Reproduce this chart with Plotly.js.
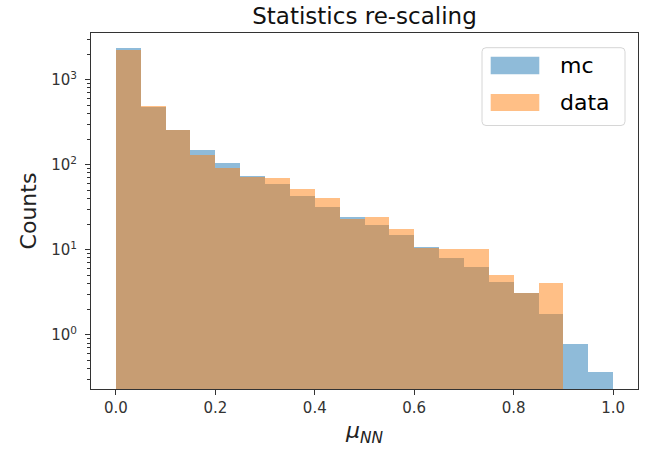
<!DOCTYPE html>
<html>
<head>
<meta charset="utf-8">
<script src="https://cdn.plot.ly/plotly-3.0.1.min.js"></script>
<style>html,body{margin:0;padding:0;background:#fff;}#chart{width:651px;height:455px;}</style>
</head>
<body>
<div id="chart"></div>
<script>
// bin left edges (width 0.05)
const binLeft = [0.00, 0.05, 0.10, 0.15, 0.20, 0.25, 0.30, 0.35, 0.40, 0.45,
                 0.50, 0.55, 0.60, 0.65, 0.70, 0.75, 0.80, 0.85, 0.90, 0.95];
const mcCounts = [2330, 474, 255, 148, 104, 73.5, 59, 43.2, 31.5, 24.1,
                  19.5, 14.9, 10.9, 8.1, 6.2, 4.15, 3.1, 1.78, 0.77, 0.365];
const dataCounts = [2256, 487, 253, 130, 91, 71, 70, 51.3, 40.9, 23,
                    24.1, 17.7, 10.4, 10.3, 10.3, 5.1, 3.1, 4.1, null, null];
const seriesNames = ['mc', 'data'];
const yTickVals = [1, 10, 100, 1000];
const yTickText = ['10<sup>0</sup>', '10<sup>1</sup>', '10<sup>2</sup>', '10<sup>3</sup>'];
const xTickVals = [0.0, 0.2, 0.4, 0.6, 0.8, 1.0];
const xTickText = ['0.0', '0.2', '0.4', '0.6', '0.8', '1.0'];

const W = 651, H = 455;
const M = {l: 91, r: 13, t: 33, b: 66};
const pw = W - M.l - M.r, ph = H - M.t - M.b;
const px = v => (v - M.l) / pw;
const py = v => (H - M.b - v) / ph;

const FONT = 'DejaVu Sans, sans-serif';
const blue = '#1f77b4', orange = '#ff7f0e';

const traces = [
  {type: 'bar', name: seriesNames[0], x: binLeft, y: mcCounts, offset: 0, width: 0.05,
   marker: {color: blue, opacity: 0.5, line: {width: 0}}, showlegend: false},
  {type: 'bar', name: seriesNames[1], x: binLeft, y: dataCounts, offset: 0, width: 0.05,
   marker: {color: orange, opacity: 0.5, line: {width: 0}}, showlegend: false}
];

// legend box (rounded)
const lx0 = px(482), lx1 = px(625), ly0 = py(125.5), ly1 = py(47.7);
const rx = 4 / pw, ry = 4 / ph;
const legPath = `M${lx0+rx},${ly0} L${lx1-rx},${ly0} Q${lx1},${ly0} ${lx1},${ly0+ry} L${lx1},${ly1-ry} Q${lx1},${ly1} ${lx1-rx},${ly1} L${lx0+rx},${ly1} Q${lx0},${ly1} ${lx0},${ly1-ry} L${lx0},${ly0+ry} Q${lx0},${ly0} ${lx0+rx},${ly0} Z`;

const shapes = [
  {type: 'path', xref: 'paper', yref: 'paper', path: legPath,
   fillcolor: 'rgba(255,255,255,0.8)', line: {color: '#d6d6d6', width: 1}},
  {type: 'rect', xref: 'paper', yref: 'paper', x0: px(490.7), x1: px(539.3), y0: py(74.3), y1: py(56.7),
   fillcolor: blue, opacity: 0.5, line: {width: 0}},
  {type: 'rect', xref: 'paper', yref: 'paper', x0: px(490.7), x1: px(539.3), y0: py(111), y1: py(94),
   fillcolor: orange, opacity: 0.5, line: {width: 0}}
];

const annotations = [
  {xref: 'paper', yref: 'paper', x: px(558), y: py(65.5), xanchor: 'left', yanchor: 'middle',
   text: seriesNames[0], showarrow: false, font: {family: FONT, size: 22, color: '#000'}},
  {xref: 'paper', yref: 'paper', x: px(558), y: py(102.5), xanchor: 'left', yanchor: 'middle',
   text: seriesNames[1], showarrow: false, font: {family: FONT, size: 22, color: '#000'}}
];

const layout = {
  width: W, height: H,
  margin: M,
  paper_bgcolor: '#fff', plot_bgcolor: '#fff',
  barmode: 'overlay',
  bargap: 0,
  showlegend: false,
  font: {family: FONT, color: '#222'},
  title: {text: 'Statistics re-scaling', font: {family: FONT, size: 23, color: '#111'},
          x: 0.5, xref: 'paper', xanchor: 'center', y: 1 - 16 / H, yref: 'container', yanchor: 'middle'},
  xaxis: {
    range: [-0.05, 1.05], tickmode: 'array', tickvals: xTickVals, ticktext: xTickText,
    ticks: 'outside', ticklen: 5, tickwidth: 1, tickcolor: '#333',
    showline: true, linecolor: '#333', linewidth: 1, mirror: true,
    showgrid: false, zeroline: false,
    tickfont: {family: FONT, size: 15, color: '#333'},
    title: {text: '<i>μ</i><sub><i>NN</i></sub>', font: {family: FONT, size: 22, color: '#222'}, standoff: 6}
  },
  yaxis: {
    type: 'log', range: [-0.637, 3.548], tickmode: 'array', tickvals: yTickVals, ticktext: yTickText,
    ticks: 'outside', ticklen: 5, tickwidth: 1, tickcolor: '#333',
    minor: {tickmode: 'linear', dtick: 'D1', ticks: 'outside', ticklen: 3, tickwidth: 1, tickcolor: '#333', showgrid: false},
    showline: true, linecolor: '#333', linewidth: 1, mirror: true,
    showgrid: false, zeroline: false,
    ticklabelstandoff: 5,
    tickfont: {family: FONT, size: 15, color: '#333'},
    title: {text: 'Counts', font: {family: FONT, size: 22, color: '#222'}, standoff: 8}
  },
  shapes: shapes,
  annotations: annotations
};

Plotly.newPlot('chart', traces, layout, {displayModeBar: false, staticPlot: true});
</script>
</body>
</html>
